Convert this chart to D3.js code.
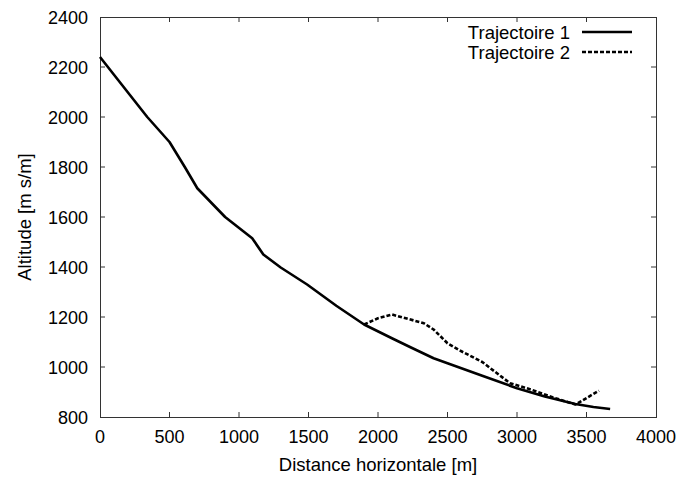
<!DOCTYPE html>
<meta charset="utf-8">
<style>
body { margin: 0; background: #fff; }
svg { display: block; }
svg text { font-family: "Liberation Sans", Arial, Helvetica, sans-serif; font-size: 18.5px; fill: #000; }
.ticklabel { font-size: 18px; }
.frame { fill: none; stroke: #333; stroke-width: 1px; }
.tick { stroke: #333; stroke-width: 1px; }
.traj { fill: none; stroke: #000; stroke-width: 2.6px; stroke-linejoin: round; }
</style>
<body>
<script src="https://d3js.org/d3.v7.min.js"></script>
<script>

// Trajectoire 1 : distance horizontale [m] / altitude [m s/m]
var traj1X = [0, 340, 500, 610, 700, 900, 1095, 1175, 1300, 1490, 1700, 1900, 2100, 2230, 2400, 2500, 2750, 3000, 3200, 3420, 3550, 3670];
var traj1Y = [2240, 2000, 1900, 1800, 1715, 1600, 1515, 1450, 1398, 1330, 1245, 1170, 1115, 1080, 1035, 1015, 965, 915, 882, 852, 840, 832];

// Trajectoire 2
var traj2X = [1900, 2000, 2100, 2200, 2330, 2400, 2500, 2610, 2750, 2950, 3100, 3260, 3420, 3590];
var traj2Y = [1170, 1195, 1210, 1195, 1175, 1150, 1095, 1060, 1020, 935, 910, 878, 850, 905];

var xTicks = [0, 500, 1000, 1500, 2000, 2500, 3000, 3500, 4000];
var yTicks = [800, 1000, 1200, 1400, 1600, 1800, 2000, 2200, 2400];

var seriesNames = ["Trajectoire 1", "Trajectoire 2"];

var width = 680, height = 481;
var margin = {top: 17, right: 24, bottom: 64, left: 100};
var innerWidth = width - margin.left - margin.right;
var innerHeight = height - margin.top - margin.bottom;

var xScale = d3.scaleLinear().domain([0, 4000]).range([0, innerWidth]);
var yScale = d3.scaleLinear().domain([800, 2400]).range([innerHeight, 0]);

var svg = d3.select("body").append("svg")
    .attr("width", width)
    .attr("height", height)
  .append("g")
    .attr("transform", `translate(${margin.left}, ${margin.top})`);

var tickLen = 5;

// x ticks, bottom and top (pointing inward)
svg.selectAll("line.xb").data(xTicks.slice(1, -1)).enter().append("line")
    .attr("class", "tick")
    .attr("x1", d => xScale(d)).attr("x2", d => xScale(d))
    .attr("y1", innerHeight).attr("y2", innerHeight - tickLen);
svg.selectAll("line.xt").data(xTicks.slice(1, -1)).enter().append("line")
    .attr("class", "tick")
    .attr("x1", d => xScale(d)).attr("x2", d => xScale(d))
    .attr("y1", 0).attr("y2", tickLen);

// y ticks, left and right
svg.selectAll("line.yl").data(yTicks.slice(1, -1)).enter().append("line")
    .attr("class", "tick")
    .attr("y1", d => yScale(d)).attr("y2", d => yScale(d))
    .attr("x1", 0).attr("x2", tickLen);
svg.selectAll("line.yr").data(yTicks.slice(1, -1)).enter().append("line")
    .attr("class", "tick")
    .attr("y1", d => yScale(d)).attr("y2", d => yScale(d))
    .attr("x1", innerWidth).attr("x2", innerWidth - tickLen);

svg.append("rect")
    .attr("class", "frame")
    .attr("x", 0.5).attr("y", 0.5)
    .attr("width", innerWidth).attr("height", innerHeight);

svg.selectAll("text.xl").data(xTicks).enter().append("text")
    .attr("class", "ticklabel")
    .attr("x", d => xScale(d))
    .attr("y", innerHeight + 26)
    .attr("text-anchor", "middle")
    .text(d => d);

svg.selectAll("text.yl").data(yTicks).enter().append("text")
    .attr("class", "ticklabel")
    .attr("x", -12)
    .attr("y", d => yScale(d) + 6.5)
    .attr("text-anchor", "end")
    .text(d => d);

svg.append("text")
    .attr("x", innerWidth / 2)
    .attr("y", innerHeight + 54)
    .attr("text-anchor", "middle")
    .text("Distance horizontale [m]");

svg.append("text")
    .attr("transform", `translate(-69, ${innerHeight / 2}) rotate(-90)`)
    .attr("text-anchor", "middle")
    .text("Altitude [m s/m]");

var line = d3.line()
    .x(d => xScale(d[0]))
    .y(d => yScale(d[1]));

var traj1 = traj1X.map((x, i) => [x, traj1Y[i]]);
var traj2 = traj2X.map((x, i) => [x, traj2Y[i]]);

svg.append("path")
    .attr("class", "traj")
    .attr("d", line(traj1));

svg.append("path")
    .attr("class", "traj")
    .attr("stroke-dasharray", "4,2")
    .attr("d", line(traj2));

// legend
var legend = svg.selectAll("g.legend").data(seriesNames).enter().append("g")
    .attr("transform", (d, i) => `translate(0, ${15 + i * 20})`);

legend.append("text")
    .attr("x", 470)
    .attr("y", 6.5)
    .attr("text-anchor", "end")
    .text(d => d);

legend.append("line")
    .attr("class", "traj")
    .attr("x1", 482).attr("x2", 532)
    .attr("y1", 0).attr("y2", 0)
    .attr("stroke-dasharray", (d, i) => i ? "4,2" : null);

</script>
